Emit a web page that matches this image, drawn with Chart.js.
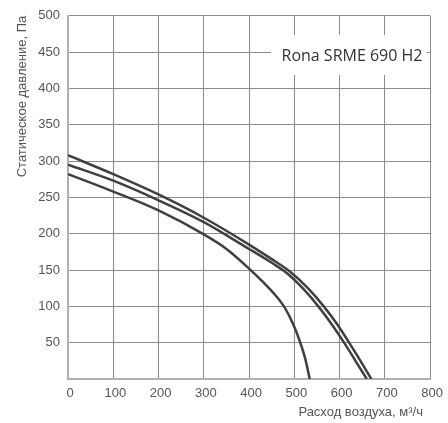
<!DOCTYPE html>
<html>
<head>
<meta charset="utf-8">
<script src="https://cdn.jsdelivr.net/npm/chart.js@4/dist/chart.umd.min.js"></script>
<style>
  html, body { margin: 0; padding: 0; background: #fff; }
  #wrap { width: 448px; height: 423px; }
</style>
</head>
<body>
<div id="wrap"><canvas id="myChart" width="448" height="423"></canvas></div>
<script>
// Air flow (m3/h) and static pressure (Pa) for the three curves
const flowTop = [0, 100, 200, 300, 400, 450, 490, 530, 565, 595, 622, 648, 670];
const pressTop = [308, 282, 254, 222, 185, 165, 148, 125, 100, 75, 49, 23, 0];

const flowMid = [0, 100, 200, 300, 400, 450, 483, 520, 553, 584, 611, 637, 660];
const pressMid = [295, 273, 246, 216, 179, 160, 146, 124, 100, 74, 49, 23, 0];

const flowLow = [0, 100, 200, 300, 350, 400, 430, 460, 480, 497, 512, 524, 534];
const pressLow = [282, 258, 232, 199, 179, 152, 134, 114, 97, 76, 52, 28, 0];

const chartLabel = 'Rona SRME 690 H2';
const xTitle = 'Расход воздуха, м³/ч';
const yTitle = 'Статическое давление, Па';

function toPoints(xs, ys) {
    return xs.map((x, i) => ({ x: x, y: ys[i] }));
}

const lineStyle = {
    showLine: true,
    borderColor: '#404040',
    borderWidth: 2.5,
    pointRadius: 0,
    fill: false,
    cubicInterpolationMode: 'monotone'
};

// white box with the model name, drawn over the grid
const labelBox = {
    id: 'labelBox',
    beforeDatasetsDraw(chart) {
        const c = chart.ctx;
        c.save();
        c.fillStyle = '#fff';
        c.fillRect(271, 35, 156, 40);
        c.fillStyle = '#333';
        c.font = '16px "Open Sans"';
        c.textAlign = 'center';
        c.textBaseline = 'middle';
        c.fillText(chartLabel, 352, 56);
        c.restore();
    }
};

const ctx = document.getElementById('myChart');

new Chart(ctx, {
    type: 'scatter',
    data: {
        datasets: [
            { data: toPoints(flowTop, pressTop), ...lineStyle },
            { data: toPoints(flowMid, pressMid), ...lineStyle },
            { data: toPoints(flowLow, pressLow), ...lineStyle }
        ]
    },
    options: {
        responsive: false,
        animation: false,
        layout: { padding: { left: 0, top: 13, right: 13, bottom: 0 } },
        plugins: {
            legend: { display: false },
            tooltip: { enabled: false }
        },
        scales: {
            x: {
                type: 'linear',
                min: 0,
                max: 800,
                afterFit: (scale) => { scale.height = 44; },
                ticks: {
                    stepSize: 100,
                    color: '#555',
                    font: { family: 'Liberation Sans', size: 13 },
                    padding: 7,
                    labelOffset: 2,
                    maxRotation: 0
                },
                grid: { color: '#8c8c8c', lineWidth: 1, drawTicks: false },
                border: { color: '#b0b0b0', width: 2 },
                title: {
                    display: true,
                    text: xTitle + '\u00a0\u00a0',
                    align: 'end',
                    color: '#555',
                    font: { family: 'Liberation Sans', size: 13 },
                    padding: { top: 3, bottom: 3 }
                }
            },
            y: {
                min: 0,
                max: 500,
                afterFit: (scale) => { scale.width = 68; },
                ticks: {
                    stepSize: 50,
                    color: '#555',
                    font: { family: 'Liberation Sans', size: 13 },
                    padding: 8,
                    callback: (v) => v === 0 ? '' : v
                },
                grid: { color: '#8c8c8c', lineWidth: 1, drawTicks: false },
                border: { color: '#b0b0b0', width: 2 },
                title: {
                    display: true,
                    text: yTitle,
                    align: 'end',
                    color: '#555',
                    font: { family: 'Liberation Sans', size: 13 },
                    padding: { top: 15, bottom: 4 }
                }
            }
        }
    },
    plugins: [labelBox]
});
</script>
</body>
</html>
